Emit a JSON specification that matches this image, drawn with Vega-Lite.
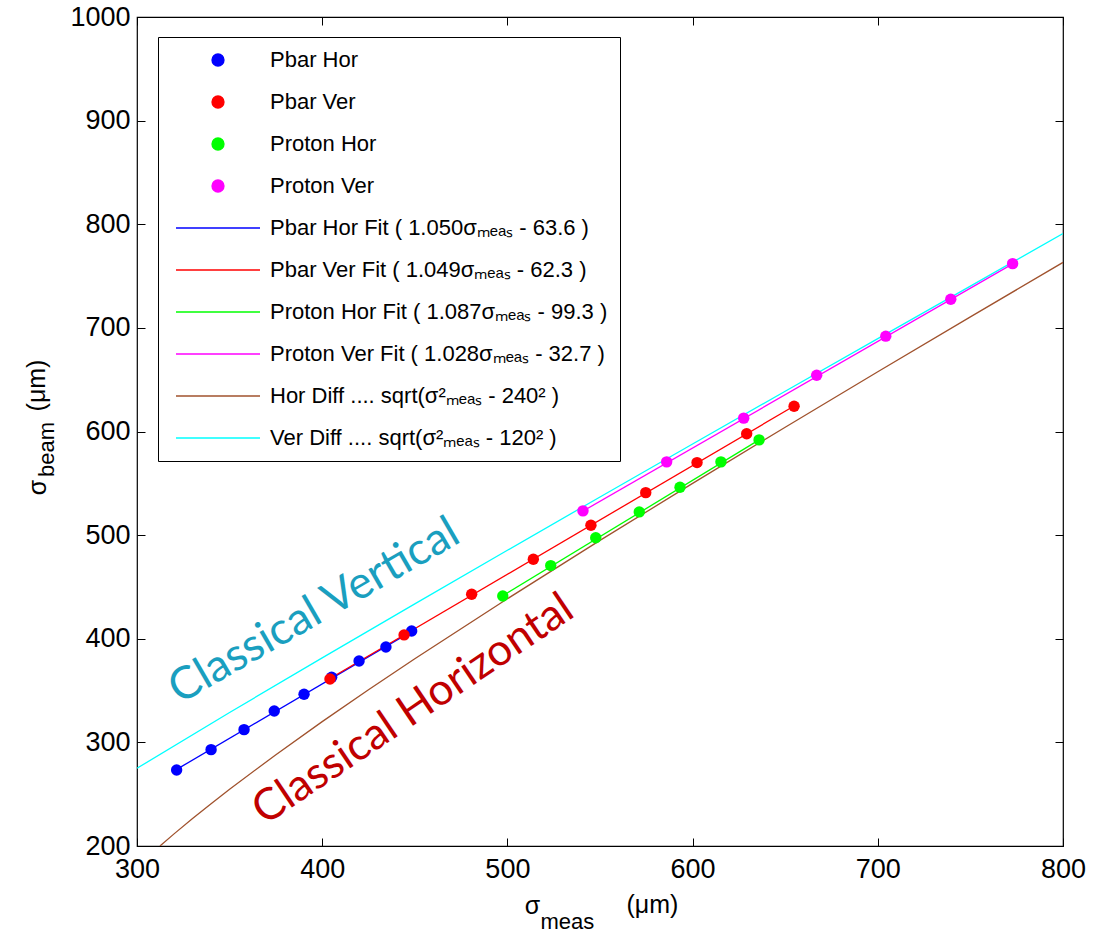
{
  "$schema": "https://vega.github.io/schema/vega-lite/v6.json",
  "width": 926,
  "height": 829,
  "autosize": {"type": "none"},
  "padding": {"left": 137, "top": 17, "right": 43, "bottom": 86},
  "background": "white",
  "config": {
    "font": "Liberation Sans",
    "view": {"stroke": "black", "strokeWidth": 1.2},
    "axis": {"grid": false, "domain": false, "tickColor": "black", "labelColor": "black", "titleColor": "black", "labelFont": "Liberation Sans", "titleFont": "Liberation Sans", "titleFontWeight": "normal"}
  },
  "datasets": {
    "meas": [
      {"series": "Pbar Hor", "x": 321.4, "y": 273.4},
      {"series": "Pbar Hor", "x": 340.0, "y": 293.0},
      {"series": "Pbar Hor", "x": 357.8, "y": 312.3},
      {"series": "Pbar Hor", "x": 374.1, "y": 330.3},
      {"series": "Pbar Hor", "x": 390.2, "y": 346.4},
      {"series": "Pbar Hor", "x": 405.1, "y": 362.8},
      {"series": "Pbar Hor", "x": 419.9, "y": 378.6},
      {"series": "Pbar Hor", "x": 434.4, "y": 392.1},
      {"series": "Pbar Hor", "x": 448.3, "y": 407.5},
      {"series": "Pbar Ver", "x": 404.2, "y": 361.2},
      {"series": "Pbar Ver", "x": 444.2, "y": 403.7},
      {"series": "Pbar Ver", "x": 480.7, "y": 443.0},
      {"series": "Pbar Ver", "x": 514.0, "y": 476.7},
      {"series": "Pbar Ver", "x": 545.1, "y": 509.6},
      {"series": "Pbar Ver", "x": 574.7, "y": 541.0},
      {"series": "Pbar Ver", "x": 602.4, "y": 570.0},
      {"series": "Pbar Ver", "x": 629.2, "y": 597.9},
      {"series": "Pbar Ver", "x": 654.8, "y": 624.4},
      {"series": "Proton Hor", "x": 497.5, "y": 441.3},
      {"series": "Proton Hor", "x": 523.4, "y": 470.6},
      {"series": "Proton Hor", "x": 547.7, "y": 497.4},
      {"series": "Proton Hor", "x": 571.2, "y": 522.4},
      {"series": "Proton Hor", "x": 593.2, "y": 546.2},
      {"series": "Proton Hor", "x": 615.3, "y": 570.7},
      {"series": "Proton Hor", "x": 635.9, "y": 591.9},
      {"series": "Proton Ver", "x": 540.8, "y": 523.4},
      {"series": "Proton Ver", "x": 586.0, "y": 570.7},
      {"series": "Proton Ver", "x": 627.6, "y": 612.9},
      {"series": "Proton Ver", "x": 667.0, "y": 654.3},
      {"series": "Proton Ver", "x": 704.3, "y": 692.0},
      {"series": "Proton Ver", "x": 739.4, "y": 727.6},
      {"series": "Proton Ver", "x": 772.8, "y": 762.0}
    ],
    "fits": [
      {"series": "Pbar Hor Fit ( 1.050σₘₑₐₛ - 63.6 )", "x": 321.4, "y": 273.9},
      {"series": "Pbar Hor Fit ( 1.050σₘₑₐₛ - 63.6 )", "x": 448.3, "y": 407.1},
      {"series": "Pbar Ver Fit ( 1.049σₘₑₐₛ - 62.3 )", "x": 404.2, "y": 361.7},
      {"series": "Pbar Ver Fit ( 1.049σₘₑₐₛ - 62.3 )", "x": 654.8, "y": 624.6},
      {"series": "Proton Hor Fit ( 1.087σₘₑₐₛ - 99.3 )", "x": 497.5, "y": 441.5},
      {"series": "Proton Hor Fit ( 1.087σₘₑₐₛ - 99.3 )", "x": 635.9, "y": 591.9},
      {"series": "Proton Ver Fit ( 1.028σₘₑₐₛ - 32.7 )", "x": 540.8, "y": 523.2},
      {"series": "Proton Ver Fit ( 1.028σₘₑₐₛ - 32.7 )", "x": 772.8, "y": 761.7},
      {"series": "Hor Diff .... sqrt(σ²ₘₑₐₛ - 240² )", "x": 312.4, "y": 200.0},
      {"series": "Hor Diff .... sqrt(σ²ₘₑₐₛ - 240² )", "x": 320, "y": 211.7},
      {"series": "Hor Diff .... sqrt(σ²ₘₑₐₛ - 240² )", "x": 330, "y": 226.5},
      {"series": "Hor Diff .... sqrt(σ²ₘₑₐₛ - 240² )", "x": 340, "y": 240.8},
      {"series": "Hor Diff .... sqrt(σ²ₘₑₐₛ - 240² )", "x": 350, "y": 254.8},
      {"series": "Hor Diff .... sqrt(σ²ₘₑₐₛ - 240² )", "x": 375, "y": 288.1},
      {"series": "Hor Diff .... sqrt(σ²ₘₑₐₛ - 240² )", "x": 400, "y": 320.0},
      {"series": "Hor Diff .... sqrt(σ²ₘₑₐₛ - 240² )", "x": 425, "y": 350.7},
      {"series": "Hor Diff .... sqrt(σ²ₘₑₐₛ - 240² )", "x": 450, "y": 380.7},
      {"series": "Hor Diff .... sqrt(σ²ₘₑₐₛ - 240² )", "x": 500, "y": 438.6},
      {"series": "Hor Diff .... sqrt(σ²ₘₑₐₛ - 240² )", "x": 550, "y": 494.9},
      {"series": "Hor Diff .... sqrt(σ²ₘₑₐₛ - 240² )", "x": 600, "y": 549.9},
      {"series": "Hor Diff .... sqrt(σ²ₘₑₐₛ - 240² )", "x": 650, "y": 604.1},
      {"series": "Hor Diff .... sqrt(σ²ₘₑₐₛ - 240² )", "x": 700, "y": 657.6},
      {"series": "Hor Diff .... sqrt(σ²ₘₑₐₛ - 240² )", "x": 750, "y": 710.6},
      {"series": "Hor Diff .... sqrt(σ²ₘₑₐₛ - 240² )", "x": 800, "y": 763.2},
      {"series": "Ver Diff .... sqrt(σ²ₘₑₐₛ - 120² )", "x": 300, "y": 275.0},
      {"series": "Ver Diff .... sqrt(σ²ₘₑₐₛ - 120² )", "x": 350, "y": 328.8},
      {"series": "Ver Diff .... sqrt(σ²ₘₑₐₛ - 120² )", "x": 400, "y": 381.6},
      {"series": "Ver Diff .... sqrt(σ²ₘₑₐₛ - 120² )", "x": 450, "y": 433.7},
      {"series": "Ver Diff .... sqrt(σ²ₘₑₐₛ - 120² )", "x": 500, "y": 485.4},
      {"series": "Ver Diff .... sqrt(σ²ₘₑₐₛ - 120² )", "x": 550, "y": 536.8},
      {"series": "Ver Diff .... sqrt(σ²ₘₑₐₛ - 120² )", "x": 600, "y": 587.9},
      {"series": "Ver Diff .... sqrt(σ²ₘₑₐₛ - 120² )", "x": 650, "y": 638.8},
      {"series": "Ver Diff .... sqrt(σ²ₘₑₐₛ - 120² )", "x": 700, "y": 689.6},
      {"series": "Ver Diff .... sqrt(σ²ₘₑₐₛ - 120² )", "x": 750, "y": 740.3},
      {"series": "Ver Diff .... sqrt(σ²ₘₑₐₛ - 120² )", "x": 800, "y": 791.0}
    ],
    "labV": [{"x": 323.0, "y": 336.5, "text": "Classical Vertical"}],
    "labH": [{"x": 369.0, "y": 219.5, "text": "Classical Horizontal"}]
  },
  "layer": [
    {
      "data": {"name": "fits"},
      "mark": {"type": "line", "strokeWidth": 1.3, "clip": true},
      "encoding": {
        "x": {"field": "x", "type": "quantitative", "scale": {"domain": [300, 800], "nice": false, "zero": false},
          "axis": {"orient": "bottom", "values": [300, 400, 500, 600, 700, 800], "format": "d", "labelFontSize": 27, "labelPadding": 10, "ticks": false, "labelFlush": false, "labelOverlap": false, "labelBound": false,
            "title": "σ", "titleFontSize": 25, "titleX": 395, "titleY": 67, "titleAlign": "center", "titleBaseline": "alphabetic", "titleAngle": 0}},
        "y": {"field": "y", "type": "quantitative", "scale": {"domain": [200, 1000], "nice": false, "zero": false},
          "axis": {"orient": "left", "values": [200, 300, 400, 500, 600, 700, 800, 900, 1000], "format": "d", "labelFontSize": 27, "labelPadding": 7, "ticks": false, "labelFlush": false, "labelOverlap": false, "labelBound": false,
            "title": "σ", "titleFontSize": 25, "titleX": -92, "titleY": 470, "titleAlign": "center", "titleBaseline": "alphabetic", "titleAngle": -90}},
        "color": {"field": "series", "type": "nominal",
          "scale": {
            "domain": ["Pbar Hor", "Pbar Ver", "Proton Hor", "Proton Ver", "Pbar Hor Fit ( 1.050σₘₑₐₛ - 63.6 )", "Pbar Ver Fit ( 1.049σₘₑₐₛ - 62.3 )", "Proton Hor Fit ( 1.087σₘₑₐₛ - 99.3 )", "Proton Ver Fit ( 1.028σₘₑₐₛ - 32.7 )", "Hor Diff .... sqrt(σ²ₘₑₐₛ - 240² )", "Ver Diff .... sqrt(σ²ₘₑₐₛ - 120² )"],
            "range": ["#0000FF", "#FF0000", "#00FF00", "#FF00FF", "#0000FF", "#FF0000", "#00FF00", "#FF00FF", "#A0522D", "#00FFFF"]
          },
          "legend": {
            "title": null, "orient": "none", "legendX": 21, "legendY": 20,
            "strokeColor": "black", "fillColor": "white", "padding": 12,
            "labelFont": "Liberation Sans", "labelFontSize": 22, "labelColor": "black", "labelLimit": 700,
            "symbolSize": 400, "rowPadding": 20, "labelOffset": 78, "symbolType": "circle", "symbolStrokeWidth": 1.3,
            "encode": {"symbols": {"update": {
              "shape": {"signal": "indexof(['Pbar Hor','Pbar Ver','Proton Hor','Proton Ver'], datum.value) >= 0 ? 'M-0.6,0A0.6,0.6,0,1,0,0.6,0A0.6,0.6,0,1,0,-0.6,0Z' : 'M-4.2,0H4.2'"},
              "x": {"value": 48},
              "fill": {"signal": "indexof(['Pbar Hor','Pbar Ver','Proton Hor','Proton Ver'], datum.value) >= 0 ? scale('color', datum.value) : 'transparent'"},
              "stroke": {"signal": "scale('color', datum.value)"},
              "opacity": {"value": 1}
            }}}
          }
        }
      }
    },
    {
      "data": {"name": "meas"},
      "mark": {"type": "point", "filled": true, "size": 130, "opacity": 1},
      "encoding": {
        "x": {"field": "x", "type": "quantitative", "scale": {"domain": [300, 800], "nice": false, "zero": false},
          "axis": {"orient": "top", "values": [300, 400, 500, 600, 700, 800], "labels": false, "tickSize": -8, "tickWidth": 1, "title": null}},
        "y": {"field": "y", "type": "quantitative", "scale": {"domain": [200, 1000], "nice": false, "zero": false},
          "axis": {"orient": "right", "values": [200, 300, 400, 500, 600, 700, 800, 900, 1000], "labels": false, "tickSize": -8, "tickWidth": 1, "title": null}},
        "color": {"field": "series", "type": "nominal"}
      }
    },
    {
      "data": {"name": "labV"},
      "mark": {"type": "text", "font": "Lato", "fontSize": 45, "angle": -30, "align": "left", "baseline": "alphabetic", "color": "#1A9FBF"},
      "encoding": {
        "x": {"field": "x", "type": "quantitative", "scale": {"domain": [300, 800], "nice": false, "zero": false},
          "axis": {"orient": "bottom", "values": [300, 400, 500, 600, 700, 800], "labels": false, "tickSize": -8, "tickWidth": 1, "title": "meas", "titleFontSize": 22, "titleX": 403, "titleY": 82, "titleAlign": "left", "titleBaseline": "alphabetic", "titleAngle": 0}},
        "y": {"field": "y", "type": "quantitative", "scale": {"domain": [200, 1000], "nice": false, "zero": false},
          "axis": {"orient": "left", "values": [200, 300, 400, 500, 600, 700, 800, 900, 1000], "labels": false, "tickSize": -8, "tickWidth": 1, "title": "beam", "titleFontSize": 22, "titleX": -84, "titleY": 432, "titleAlign": "center", "titleBaseline": "alphabetic", "titleAngle": -90}},
        "text": {"field": "text"}
      }
    },
    {
      "data": {"name": "labH"},
      "mark": {"type": "text", "font": "Lato", "fontSize": 44, "angle": -34, "align": "left", "baseline": "alphabetic", "color": "#C00000"},
      "encoding": {
        "x": {"field": "x", "type": "quantitative", "scale": {"domain": [300, 800], "nice": false, "zero": false},
          "axis": {"orient": "bottom", "labels": false, "ticks": false, "title": "(μm)", "titleFontSize": 25, "titleX": 489, "titleY": 66, "titleAlign": "left", "titleBaseline": "alphabetic", "titleAngle": 0}},
        "y": {"field": "y", "type": "quantitative", "scale": {"domain": [200, 1000], "nice": false, "zero": false},
          "axis": {"orient": "left", "labels": false, "ticks": false, "title": "(μm)", "titleFontSize": 25, "titleX": -93, "titleY": 368, "titleAlign": "center", "titleBaseline": "alphabetic", "titleAngle": -90}},
        "text": {"field": "text"}
      }
    }
  ],
  "resolve": {"axis": {"x": "independent", "y": "independent"}}
}
